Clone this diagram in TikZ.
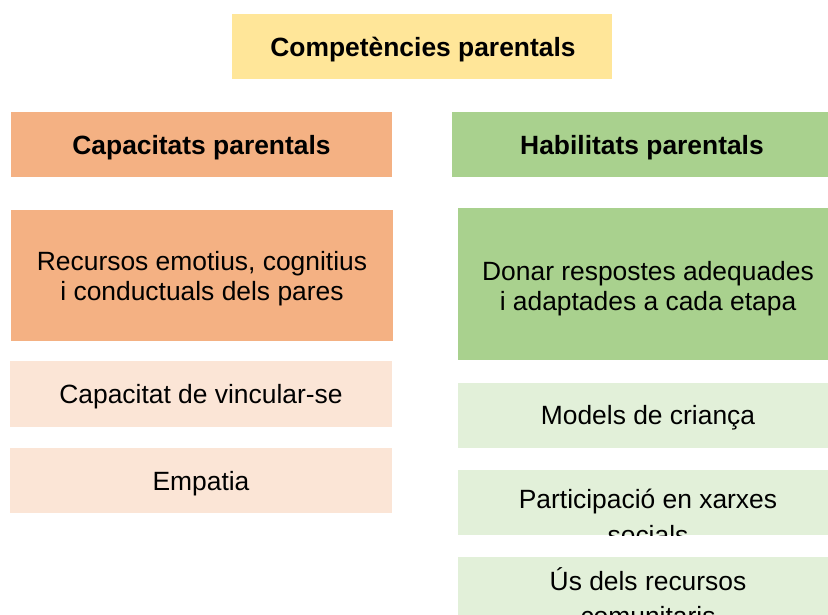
\documentclass[tikz,border=0pt]{standalone}
\usepackage{fontspec}
\setmainfont{Liberation Sans}
\definecolor{cyellow}{HTML}{FFE699}
\definecolor{corange}{HTML}{F4B183}
\definecolor{cgreen}{HTML}{A9D18E}
\definecolor{lorange}{HTML}{FBE5D6}
\definecolor{lgreen}{HTML}{E2F0D9}
\begin{document}
\begin{tikzpicture}[x=1pt,y=-1pt,
  box/.style={rectangle, draw=none, inner sep=0pt, outer sep=0pt},
  lbox/.style={box, minimum width=382pt},
  rbox/.style={box, minimum width=370pt},
  txt/.style={inner sep=0pt, outer sep=0pt, align=center, anchor=base, text=black,
    font=\fontsize{26.4}{30}\selectfont},
  btxt/.style={txt, font=\fontsize{26.4}{30}\selectfont\bfseries}]
\useasboundingbox (0,0) rectangle (828,615);
% header
\node[box, fill=cyellow, minimum width=380pt, minimum height=65pt] (comp) at (422,46.5) {};
\node[btxt] (compt) at (423,56.5) {Competències parentals};
\node[box, fill=corange, minimum width=381pt, minimum height=65pt] (cap) at (201.5,144.5) {};
\node[btxt] (capt) at (201.5,154.5) {Capacitats parentals};
\node[box, fill=cgreen, minimum width=376pt, minimum height=65pt] (hab) at (640,144.5) {};
\node[btxt] (habt) at (642,154.5) {Habilitats parentals};
% left column
\node[lbox, fill=corange, minimum height=131pt] (rec) at (202,275.5) {};
\node[txt] (rect) at (202,300.5) {Recursos emotius, cognitius\\i conductuals dels pares};
\node[lbox, fill=lorange, minimum height=66pt] (vin) at (201,394) {};
\node[txt] (vint) at (201,403.3) {Capacitat de vincular-se};
\node[lbox, fill=lorange, minimum height=65pt] (emp) at (201,480.5) {};
\node[txt] (empt) at (201,490.7) {Empatia};
% right column
\node[rbox, fill=cgreen, minimum height=152pt] (don) at (643,284) {};
\node[txt] (dont) at (648,310) {Donar respostes adequades\\i adaptades a cada etapa};
\node[rbox, fill=lgreen, minimum height=65pt] (mod) at (643,415.5) {};
\node[txt] (modt) at (648,424.8) {Models de criança};
\node[rbox, fill=lgreen, minimum height=65pt] (par) at (643,502.5) {};
\begin{scope}
\clip (par.south west) rectangle (par.north east);
\node[txt] (part) at (648,544) {Participació en xarxes\\[6pt]socials};
\end{scope}
\node[rbox, fill=lgreen, minimum height=65pt] (us) at (643,589.5) {};
\begin{scope}
\clip (us.north west) rectangle (828,615);
\node[txt] (ust) at (648,625) {Ús dels recursos\\[5pt]comunitaris};
\end{scope}
\end{tikzpicture}
\end{document}
